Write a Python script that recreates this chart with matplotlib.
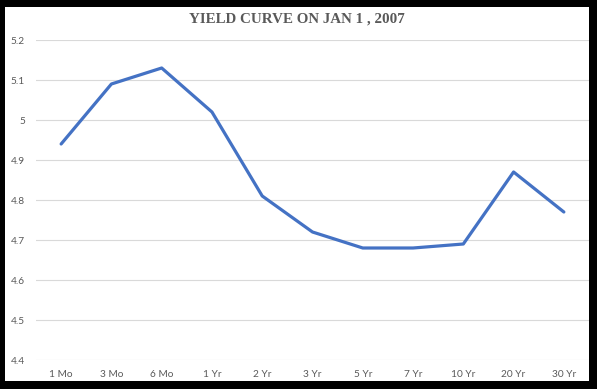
import matplotlib.pyplot as plt

# yield curve data, Jan 1 2007
maturities = ["1 Mo", "3 Mo", "6 Mo", "1 Yr", "2 Yr", "3 Yr", "5 Yr", "7 Yr", "10 Yr", "20 Yr", "30 Yr"]
yields = [4.94, 5.09, 5.13, 5.02, 4.81, 4.72, 4.68, 4.68, 4.69, 4.87, 4.77]
yticks = [4.4, 4.5, 4.6, 4.7, 4.8, 4.9, 5.0, 5.1, 5.2]
ytick_labels = ["4.4", "4.5", "4.6", "4.7", "4.8", "4.9", "5", "5.1", "5.2"]

W, H = 597, 389
fig = plt.figure(figsize=(W / 100, H / 100), dpi=100, facecolor="black")

# white chart area inside the black frame
bg = fig.add_axes([5 / W, 1 - 381 / H, 584 / W, 374 / H], zorder=0)
bg.set_facecolor("white")
bg.set_xticks([])
bg.set_yticks([])
for s in bg.spines.values():
    s.set_visible(False)

ax = fig.add_axes([36 / W, 1 - 360 / H, 553 / W, 320 / H], zorder=1)
ax.set_facecolor("none")

x = list(range(len(maturities)))
ax.plot(x, yields, color="#4472C4", linewidth=2.3, solid_capstyle="round", zorder=3)

ax.set_xlim(-0.5, len(maturities) - 0.5)
ax.set_ylim(4.4, 5.2)
ax.set_yticks(yticks)
ax.set_yticklabels(ytick_labels)
ax.set_xticks(x)
ax.set_xticklabels(maturities)

ax.grid(axis="y", color="#D9D9D9", linewidth=0.8)
ax.set_axisbelow(True)
for s in ax.spines.values():
    s.set_visible(False)
ax.tick_params(length=0, labelsize=7.3, labelcolor="#595959")
ax.tick_params(axis="y", pad=8)
ax.tick_params(axis="x", pad=7)
for lbl in ax.get_xticklabels() + ax.get_yticklabels():
    lbl.set_fontfamily("Lato")

fig.text(297 / W, 1 - 19 / H, "YIELD CURVE ON JAN 1 , 2007", ha="center", va="center",
         fontsize=10.8, fontweight="bold", color="#595959", family="Liberation Serif")

fig.savefig("out.png", dpi=100, facecolor="black")
